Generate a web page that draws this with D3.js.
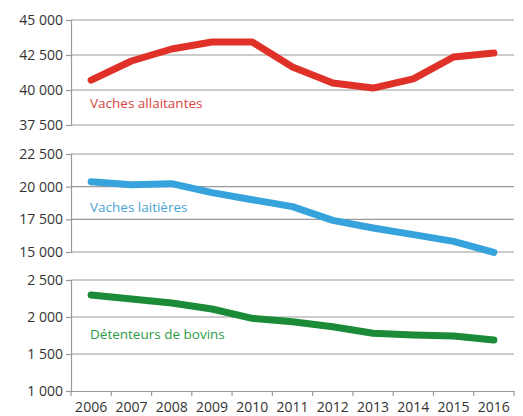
<!DOCTYPE html>
<html><head><meta charset="utf-8">
<script src="https://cdn.jsdelivr.net/npm/d3@7"></script>
<style>body{margin:0;background:#fff}svg{display:block}</style>
</head><body>
<svg id="c" width="523" height="416"></svg>
<script>
const years = ["2006","2007","2008","2009","2010","2011","2012","2013","2014","2015","2016"];
const allaitantes = [40700,42070,42930,43430,43430,41640,40500,40140,40790,42360,42640];
const laitieres = [20380,20150,20230,19540,19000,18470,17420,16840,16330,15810,14970];
const detenteurs = [2297,2243,2190,2108,1982,1937,1869,1780,1757,1743,1689];
const ticksTop = [37500,40000,42500,45000];
const ticksMid = [15000,17500,20000,22500];
const ticksBot = [1000,1500,2000,2500];

const svg = d3.select("#c");
const L = 71, R = 514;
const FONT = "'Open Sans', sans-serif";
const x = d3.scaleBand().domain(years).range([L, R]);
const fmt = v => d3.format(",")(v).replace(/,/g, " ");

const panels = [
  {data: allaitantes, ticks: ticksTop, y0: 125, y1: 20, color: "#e03129", label: "Vaches allaitantes", lc: "#d64541", ly: 108},
  {data: laitieres, ticks: ticksMid, y0: 252, y1: 154, color: "#36a3dc", label: "Vaches laitières", lc: "#4aa3d6", ly: 212},
  {data: detenteurs, ticks: ticksBot, y0: 391, y1: 280, color: "#1b8b38", label: "Détenteurs de bovins", lc: "#2e9a46", ly: 339}
];

panels.forEach((p, i) => {
  const y = d3.scaleLinear().domain([p.ticks[0], p.ticks[p.ticks.length-1]]).range([p.y0, p.y1]);
  const g = svg.append("g");
  g.selectAll("line.grid").data(p.ticks.slice(i === 2 ? 1 : 0)).join("line")
    .attr("x1", L).attr("x2", R).attr("y1", d => y(d)).attr("y2", d => y(d))
    .attr("stroke", "#9a9a9a").attr("stroke-width", 1.2);
  const ax = g.append("g").attr("transform", `translate(${L},0)`)
    .call(d3.axisLeft(y).tickValues(p.ticks).tickFormat(fmt).tickSize(5).tickPadding(3));
  ax.select(".domain").attr("stroke", "#9a9a9a").attr("stroke-width", 1.2);
  ax.selectAll(".tick line").attr("stroke", "#9a9a9a").attr("stroke-width", 1.2);
  ax.selectAll("text").attr("font-family", FONT).attr("font-size", 14).attr("fill", "#333");
  g.append("path").datum(p.data)
    .attr("d", d3.line().x((d, k) => x(years[k]) + x.bandwidth()/2).y(d => y(d)))
    .attr("fill", "none").attr("stroke", p.color).attr("stroke-width", 7)
    .attr("stroke-linecap", "round").attr("stroke-linejoin", "round");
  g.append("text").attr("x", 90).attr("y", p.ly).text(p.label)
    .attr("font-family", FONT).attr("font-size", 13.5).attr("fill", p.lc);
  if (i === 2) {
    const xa = svg.append("g").attr("transform", `translate(0,${p.y0})`)
      .call(d3.axisBottom(x).tickSize(0).tickPadding(11));
    xa.select(".domain").attr("stroke", "#9a9a9a").attr("stroke-width", 1.2);
    xa.selectAll("text").attr("font-family", FONT).attr("font-size", 14).attr("fill", "#333");
    const bounds = years.map(yv => x(yv)).concat([R]);
    xa.selectAll("line.b").data(bounds).join("line")
      .attr("x1", d => d).attr("x2", d => d).attr("y1", 0).attr("y2", 5)
      .attr("stroke", "#9a9a9a").attr("stroke-width", 1.2);
  }
});
</script>
</body></html>
